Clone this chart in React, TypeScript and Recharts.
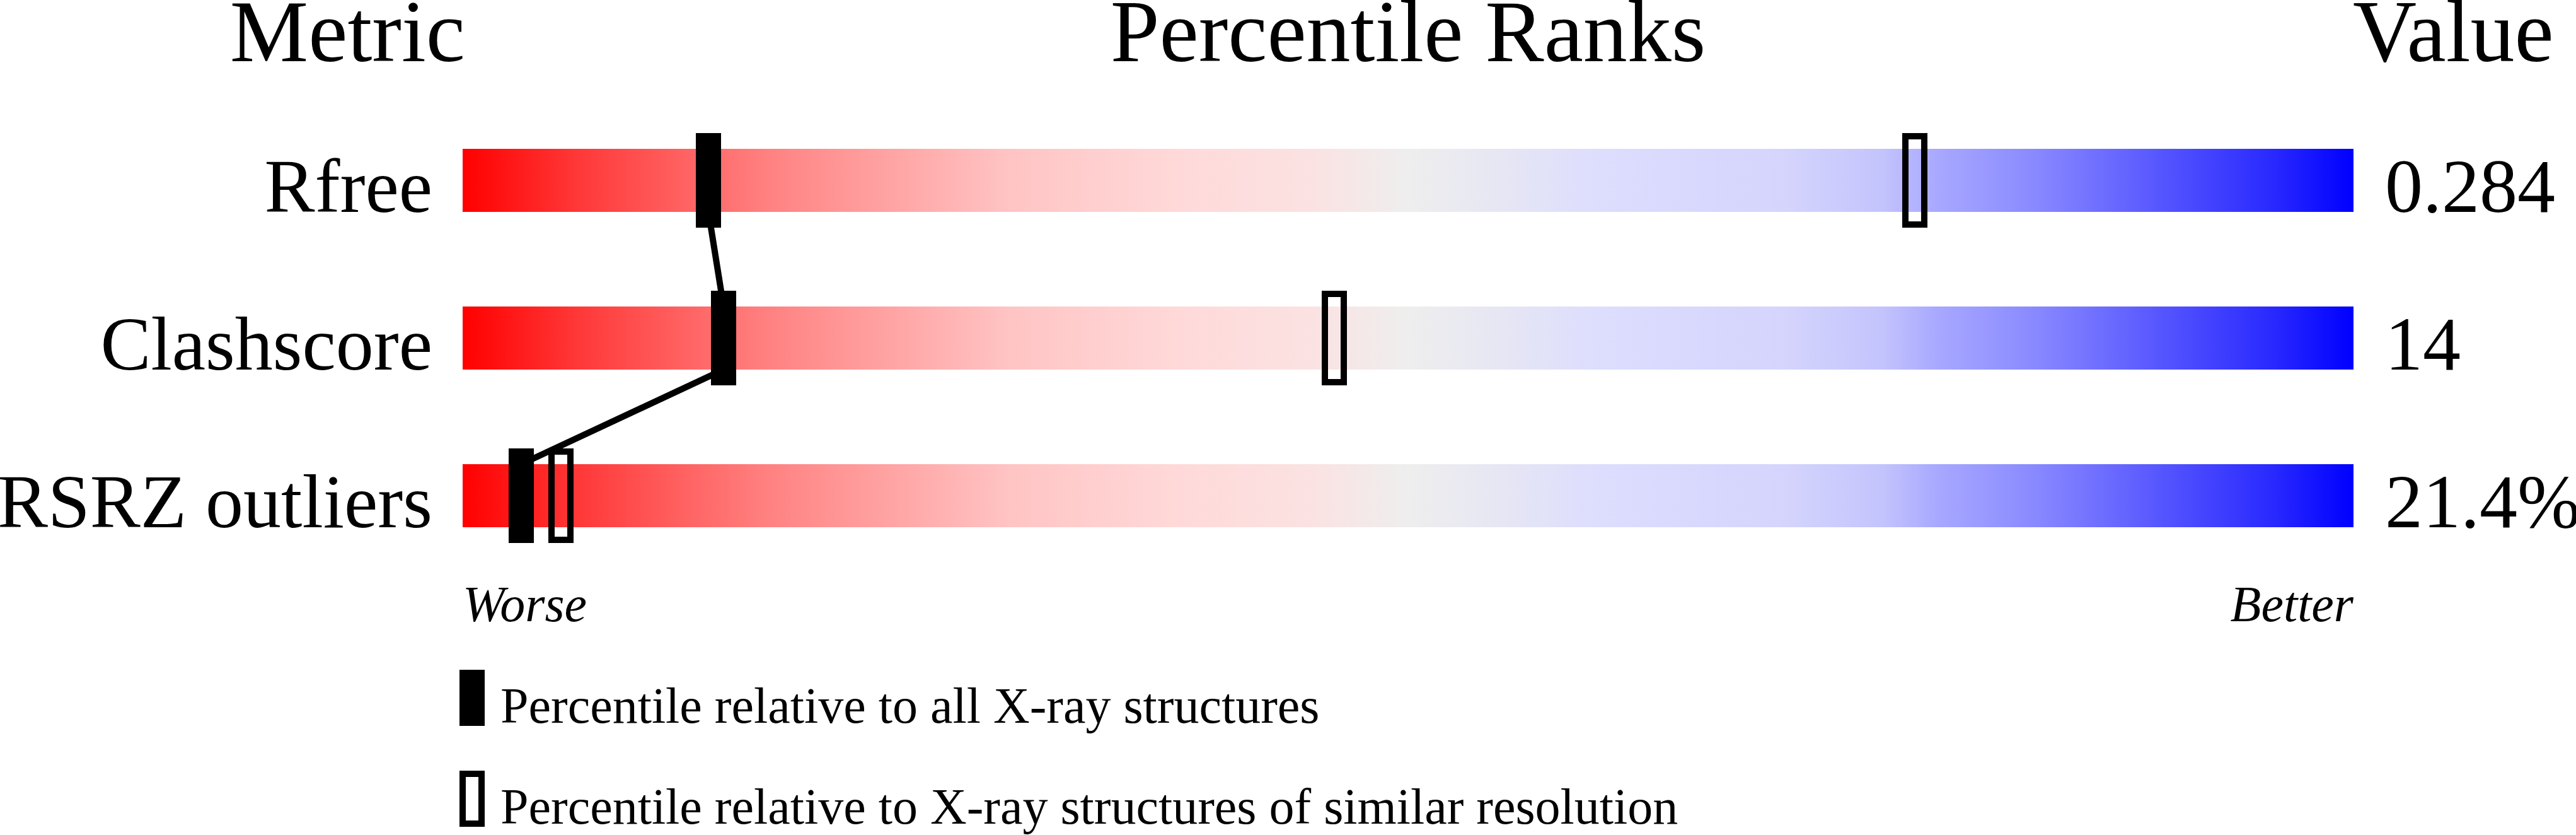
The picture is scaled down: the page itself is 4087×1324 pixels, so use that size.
import React from 'react';
import { ComposedChart, Bar, Scatter, XAxis, YAxis, Legend, LabelList } from 'recharts';

const metrics = ['Rfree', 'Clashscore', 'RSRZ outliers'];
const allXray = [13.0, 13.8, 3.1];
const similarRes = [76.8, 46.1, 5.2];
const valueLabels = ['0.284', '14', '21.4%'];
const scaleTicks = [0, 100];
const scaleLabels = ['Worse', 'Better'];
const seriesNames = [
  'Percentile relative to all X-ray structures',
  'Percentile relative to X-ray structures of similar resolution',
];

const gradientStops: [number, string][] = [
  [0, '#ff0000'],
  [0.06, '#ff3737'],
  [0.12, '#ff6464'],
  [0.16, '#ff8080'],
  [0.2, '#ff9696'],
  [0.29, '#ffc4c4'],
  [0.38, '#ffd9d9'],
  [0.45, '#fbe2e2'],
  [0.5, '#eeeeee'],
  [0.55, '#e6e6f4'],
  [0.6, '#ddddfe'],
  [0.7, '#d4d4fd'],
  [0.75, '#c4c4fd'],
  [0.78, '#a8a8ff'],
  [0.83, '#8a8aff'],
  [0.89, '#5c5cff'],
  [0.956, '#2a2aff'],
  [1, '#0000ff'],
];

const rows = metrics.map((metric, i) => ({
  metric,
  full: 100,
  all: allXray[i],
  similar: similarRes[i],
  value: valueLabels[i],
}));

const FONT = '"Liberation Serif", "Times New Roman", Times, serif';
const BAR_SIZE = 100;

const FilledMarker = (props: any) => {
  const { cx, cy } = props;
  return <rect x={cx - 20} y={cy - 75} width={40} height={150} fill="#000" />;
};

const OpenMarker = (props: any) => {
  const { cx, cy } = props;
  return <rect x={cx - 15} y={cy - 70} width={30} height={140} fill="none" stroke="#000" strokeWidth={10} />;
};

// joins the bottom of one bar to the top of the next one
const renderLink = (props: any) => {
  const pts = props.points || [];
  const segs = [];
  for (let i = 0; i < pts.length - 1; i++) {
    segs.push(
      <line
        key={i}
        x1={pts[i].x}
        y1={pts[i].y + BAR_SIZE / 2}
        x2={pts[i + 1].x}
        y2={pts[i + 1].y - BAR_SIZE / 2}
        stroke="#000"
        strokeWidth={10}
      />
    );
  }
  return <g>{segs}</g>;
};

const renderMetricLabel = (props: any) => {
  const x = Number(props.x);
  const y = Number(props.y) + Number(props.height);
  return (
    <text x={x - 48} y={y} textAnchor="end" fontFamily={FONT} fontSize={120} fill="#000">
      {props.value}
    </text>
  );
};

const renderValueLabel = (props: any) => {
  const x = Number(props.x) + Number(props.width);
  const y = Number(props.y) + Number(props.height);
  return (
    <text x={x + 50} y={y} textAnchor="start" fontFamily={FONT} fontSize={120} fill="#000">
      {props.value}
    </text>
  );
};

const ScaleTick = (props: any) => {
  const { x, y, index } = props;
  return (
    <text
      x={x}
      y={y + 74}
      textAnchor={index === 0 ? 'start' : 'end'}
      fontFamily={FONT}
      fontStyle="italic"
      fontSize={80}
      fill="#000"
    >
      {scaleLabels[index]}
    </text>
  );
};

const renderLegend = (props: any) => {
  const order = ['all', 'similar'];
  const items = (props.payload || [])
    .filter((p: any) => order.includes(p.dataKey))
    .sort((a: any, b: any) => order.indexOf(a.dataKey) - order.indexOf(b.dataKey));
  return (
    <svg width={2000} height={264} style={{ overflow: 'visible' }}>
      {items.map((item: any, i: number) => (
        <g key={item.dataKey} transform={`translate(0, ${i * 160})`}>
          {item.dataKey === 'all' ? (
            <rect x={1} y={2} width={40} height={89} fill="#000" />
          ) : (
            <rect x={6} y={7} width={30} height={79} fill="none" stroke="#000" strokeWidth={10} />
          )}
          <text x={66} y={86} fontFamily={FONT} fontSize={80} fill="#000">
            {item.value}
          </text>
        </g>
      ))}
    </svg>
  );
};

const App: React.FC = () => {
  return (
    <div style={{ width: 4087, height: 1324, background: '#fff' }}>
      <style>{'body{margin:0}'}</style>
      <ComposedChart
        width={4087}
        height={1324}
        data={rows}
        layout="vertical"
        margin={{ top: 161, right: 353, bottom: 339, left: 734 }}
      >
        <defs>
          <linearGradient id="prGradient" x1="0" y1="0" x2="1" y2="0">
            {gradientStops.map(([o, c]) => (
              <stop key={o} offset={o} stopColor={c} />
            ))}
          </linearGradient>
        </defs>
        <text x={738} y={97} textAnchor="end" fontFamily={FONT} fontSize={140} fill="#000">
          Metric
        </text>
        <text x={2234} y={97} textAnchor="middle" fontFamily={FONT} fontSize={140} fill="#000">
          Percentile Ranks
        </text>
        <text x={3733} y={97} textAnchor="start" fontFamily={FONT} fontSize={140} fill="#000">
          Value
        </text>
        <XAxis
          type="number"
          domain={[0, 100]}
          ticks={scaleTicks}
          interval={0}
          height={74}
          axisLine={false}
          tickLine={false}
          tickSize={0}
          tickMargin={0}
          tick={<ScaleTick />}
        />
        <YAxis type="category" dataKey="metric" hide />
        <Bar dataKey="full" barSize={BAR_SIZE} fill="url(#prGradient)" isAnimationActive={false} legendType="none">
          <LabelList dataKey="metric" content={renderMetricLabel} />
          <LabelList dataKey="value" content={renderValueLabel} />
        </Bar>
        <Scatter
          dataKey="all"
          name={seriesNames[0]}
          shape={<FilledMarker />}
          line={renderLink}
          lineType="joint"
          fill="#000"
          isAnimationActive={false}
        />
        <Scatter
          dataKey="similar"
          name={seriesNames[1]}
          shape={<OpenMarker />}
          fill="#000"
          isAnimationActive={false}
        />
        <Legend
          layout="vertical"
          align="center"
          verticalAlign="middle"
          content={renderLegend}
          wrapperStyle={{ left: 728, top: 1060, width: 2000, height: 264 }}
        />
      </ComposedChart>
    </div>
  );
};

export default App;
